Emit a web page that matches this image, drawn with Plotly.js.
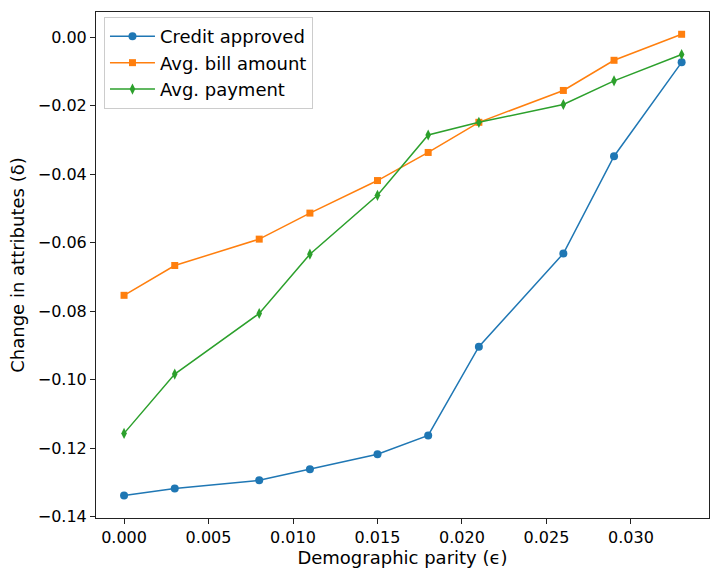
<!DOCTYPE html>
<html>
<head>
<meta charset="utf-8">
<script src="https://cdn.plot.ly/plotly-3.0.1.min.js"></script>
<style>body{margin:0;} #plot{width:720px;height:576px;}</style>
</head>
<body>
<div id="plot"></div>
<script>
// demographic parity epsilon values
var eps = [0.000, 0.003, 0.008, 0.011, 0.015, 0.018, 0.021, 0.026, 0.029, 0.033];

var creditApproved = [-0.1338, -0.1318, -0.1294, -0.1262, -0.1218, -0.1163, -0.0904, -0.0632, -0.0348, -0.0074];
var avgBill = [-0.0754, -0.0667, -0.0590, -0.0514, -0.0419, -0.0337, -0.0249, -0.0156, -0.0068, 0.0008];
var avgPayment = [-0.1157, -0.0984, -0.0807, -0.0634, -0.0462, -0.0286, -0.0249, -0.0197, -0.0128, -0.0051];

var trace1 = {
  x: eps, y: creditApproved, name: "Credit approved",
  mode: "lines+markers", type: "scatter",
  line: {color: "#1f77b4", width: 1.5},
  marker: {symbol: "circle", size: 8, color: "#1f77b4"}
};
var trace2 = {
  x: eps, y: avgBill, name: "Avg. bill amount",
  mode: "lines+markers", type: "scatter",
  line: {color: "#ff7f0e", width: 1.5},
  marker: {symbol: "square", size: 7, color: "#ff7f0e"}
};
var trace3 = {
  x: eps, y: avgPayment, name: "Avg. payment",
  mode: "lines+markers", type: "scatter",
  line: {color: "#2ca02c", width: 1.5},
  marker: {symbol: "diamond-tall", size: 8, color: "#2ca02c"}
};

var axisStyle = {
  showgrid: false, zeroline: false,
  showline: true, mirror: true, linecolor: "#222", linewidth: 1,
  ticks: "outside", ticklen: 5, tickcolor: "#222",
  tickfont: {size: 16, color: "#000"}
};

var layout = {
  width: 720, height: 576,
  margin: {l: 96, r: 11, t: 12, b: 58},
  font: {family: "DejaVu Sans", color: "#000"},
  paper_bgcolor: "white", plot_bgcolor: "white",
  showlegend: true,
  legend: {
    x: 0.013, y: 0.99, xanchor: "left", yanchor: "top",
    bordercolor: "#ccc", borderwidth: 1, bgcolor: "rgba(255,255,255,0.8)",
    font: {size: 18}, itemwidth: 45, tracegroupgap: 0
  },
  xaxis: Object.assign({}, axisStyle, {
    range: [-0.00166, 0.03462], dtick: 0.005, tick0: 0, tickformat: ".3f",
    title: {text: "Demographic parity (ϵ)", font: {size: 18}, standoff: 3}
  }),
  yaxis: Object.assign({}, axisStyle, {
    range: [-0.1404, 0.0073], dtick: 0.02, tick0: 0, tickformat: ".2f",
    title: {text: "Change in attributes (δ)", font: {size: 18}, standoff: 8}
  })
};

Plotly.newPlot("plot", [trace1, trace2, trace3], layout, {displayModeBar: false});
</script>
</body>
</html>
